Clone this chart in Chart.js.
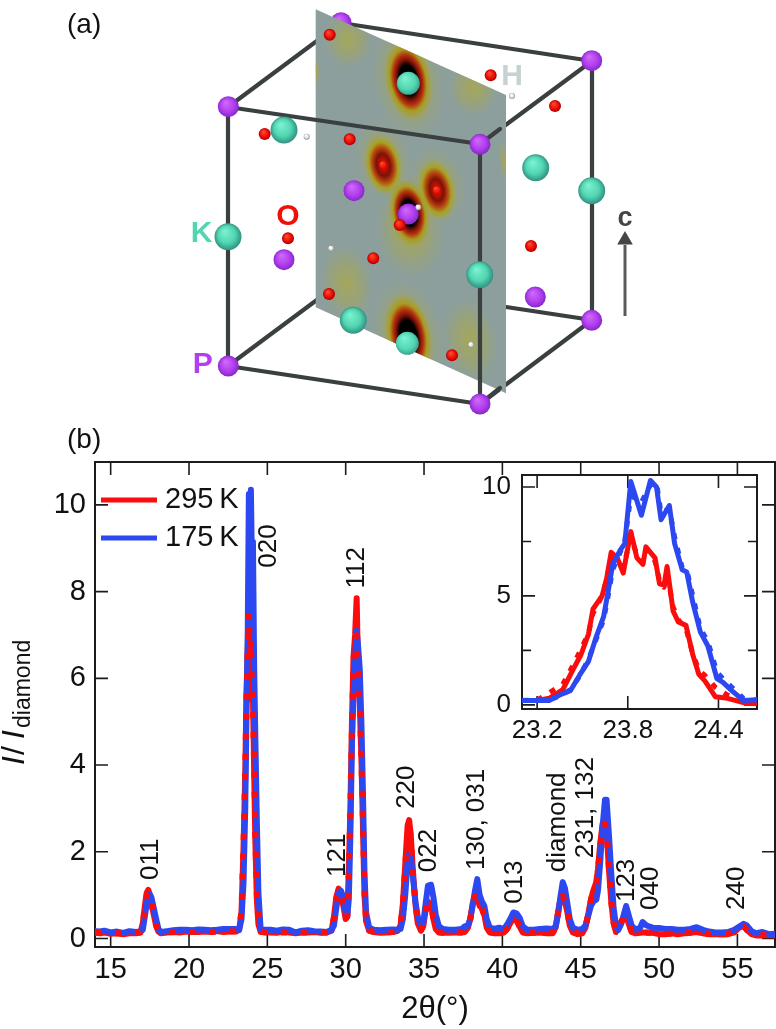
<!DOCTYPE html>
<html>
<head>
<meta charset="utf-8">
<title>KDP diffraction</title>
<script src="https://cdn.jsdelivr.net/npm/chart.js@4"></script>
<style>
  html, body { margin: 0; padding: 0; background: #fff; }
  #page { position: relative; width: 776px; height: 1029px; overflow: hidden; }
  canvas { position: absolute; }
</style>
</head>
<body>
<div id="page">
  <canvas id="chartMain" width="776" height="1029" style="left:0;top:0"></canvas>
  <canvas id="chartInset" width="290" height="280" style="left:470px;top:470px"></canvas>
  <canvas id="chartCell" width="776" height="425" style="left:0;top:0"></canvas>
</div>
<script>
// === main pattern ===
const twoTheta = [
  14, 14.3, 14.6, 15, 15.4, 15.8, 16.2, 16.6, 16.9,
  17.05, 17.2, 17.3, 17.4, 17.5, 17.6, 17.75, 17.9, 18.05, 18.2,
  18.6, 19, 19.4, 19.8, 20.2, 20.6, 21, 21.4, 21.8, 22.2, 22.6, 23,
  23.2, 23.35, 23.48, 23.59, 23.67, 23.75, 23.82, 23.89, 23.95, 24.02, 24.08, 24.16, 24.23, 24.33, 24.43, 24.57,
  24.8, 25.2, 25.6, 26, 26.4, 26.8, 27.2, 27.6, 28, 28.4, 28.8, 29.1,
  29.25, 29.4, 29.55, 29.7, 29.85, 30, 30.1, 30.2, 30.3, 30.4, 30.5, 30.6, 30.7, 30.8, 30.9, 31, 31.1, 31.2, 31.3, 31.5,
  31.8, 32.2, 32.6, 33, 33.3,
  33.5, 33.65, 33.8, 33.95, 34.05, 34.15, 34.3, 34.45, 34.6, 34.8, 34.95, 35.1, 35.25, 35.45, 35.6, 35.75, 35.95,
  36.2, 36.6, 37, 37.4, 37.6, 37.8,
  37.95, 38.1, 38.25, 38.4, 38.55, 38.7, 38.85, 39, 39.2, 39.5, 39.8, 40.1,
  40.3, 40.5, 40.7, 40.9, 41.1, 41.3, 41.6, 42, 42.4, 42.8, 43.2,
  43.4, 43.55, 43.7, 43.85, 44, 44.15, 44.3, 44.5, 44.8, 45.1,
  45.3, 45.5, 45.65, 45.8, 46, 46.1, 46.25, 46.4, 46.55, 46.65, 46.8, 46.95, 47.1, 47.25,
  47.4, 47.6, 47.75, 47.9, 48.05, 48.25, 48.5, 48.8, 48.95, 49.2, 49.6,
  50, 50.4, 50.8, 51.2, 51.6, 52, 52.4, 52.8, 53.2, 53.6, 54, 54.4, 54.8,
  55.1, 55.4, 55.6, 55.9, 56.2, 56.6, 57, 57.4
];
const data295 = [
  .14, .12, .14, .11, .12, .10, .12, .12, .14,
  .35, .8, 1.05, 1.12, 1, .8, .55, .3, .16, .12,
  .14, .15, .14, .16, .15, .15, .16, .15, .17, .15, .16, .16,
  .2, .6, 2.1, 3.8, 5.7, 6.7, 7.9, 6.5, 7.1, 5.5, 5.6, 3.8, 2.3, .9, .33, .15,
  .15, .14, .13, .16, .14, .12, .14, .14, .15, .13, .14, .18,
  .5, .95, 1.15, 1.05, .75, .45, .5, 1.6, 3, 5, 6.5, 7, 7.85, 6, 5.4, 4.2, 2.6, 1, .4, .18,
  .15, .13, .14, .15, .17,
  .3, .8, 1.7, 2.6, 2.73, 2.4, 1.5, .8, .35, .18, .28, .65, .85, .78, .45, .22, .14,
  .13, .13, .14, .14, .15, .25,
  .45, .8, 1, .95, .75, .7, .55, .25, .14, .12, .12, .14,
  .22, .35, .48, .42, .28, .14, .12, .13, .14, .12, .12,
  .25, .6, .9, 1, .85, .6, .3, .14, .1, .12,
  .25, .6, .9, 1.1, 1.3, 1.6, 2.2, 2.65, 2.7, 2.5, 1.6, .85, .35, .15,
  .25, .4, .5, .55, .35, .15, .12, .13, .14, .14, .13,
  .1, .1, .12, .1, .12, .13, .15, .12, .1, .1, .09, .1, .14,
  .25, .3, .2, .1, .07, .07, .08, .07
];
const fit295 = [
  .13, .13, .13, .12, .12, .11, .12, .13, .14,
  .33, .78, 1, 1.08, 1, .82, .56, .3, .17, .13,
  .14, .15, .15, .15, .15, .15, .15, .15, .16, .16, .16, .17,
  .2, .65, 2.2, 3.9, 5.6, 6.6, 7.5, 6.5, 6.9, 5.6, 5.5, 3.9, 2.4, 1, .4, .17,
  .14, .14, .14, .14, .14, .13, .14, .14, .14, .14, .14, .18,
  .48, .92, 1.1, 1.03, .76, .47, .52, 1.55, 3, 4.9, 6.4, 6.9, 7, 6, 5.3, 4.2, 2.7, 1.05, .42, .18,
  .15, .14, .14, .15, .17,
  .3, .78, 1.65, 2.5, 2.6, 2.35, 1.5, .82, .37, .2, .3, .63, .82, .76, .45, .23, .15,
  .13, .13, .14, .14, .16, .25,
  .44, .78, .98, .95, .76, .68, .53, .26, .15, .13, .13, .14,
  .22, .34, .46, .42, .28, .15, .12, .13, .13, .13, .13,
  .25, .58, .88, .98, .85, .6, .32, .15, .12, .12,
  .25, .58, .88, 1.08, 1.28, 1.58, 2.15, 2.6, 2.65, 2.45, 1.62, .85, .37, .16,
  .25, .38, .48, .52, .34, .16, .13, .13, .13, .13, .13,
  .11, .11, .11, .11, .12, .13, .14, .12, .11, .1, .1, .11, .15,
  .24, .28, .2, .11, .08, .08, .08, .08
];
const data175 = [
  .17, .16, .18, .14, .16, .13, .17, .15, .16,
  .2, .55, .8, .95, 1.02, .95, .7, .45, .22, .15,
  .17, .19, .2, .2, .19, .21, .2, .19, .2, .22, .22, .22,
  .2, .45, 1.3, 3, 5.2, 7.1, 10.25, 8.7, 10.35, 8.5, 9.15, 6.2, 4.7, 2.7, 1.05, .22,
  .2, .2, .18, .21, .2, .14, .18, .19, .17, .16, .15, .2,
  .3, .7, 1.05, 1.1, .95, .6, .5, .9, 2.4, 4.5, 5.6, 6.4, 7.1, 6.7, 6.2, 5, 3.4, 1.5, .6, .25,
  .2, .19, .2, .21, .2,
  .22, .45, 1, 1.75, 1.95, 1.9, 1.4, .85, .5, .32, .35, .8, 1.22, 1.24, .95, .55, .28,
  .22, .2, .2, .22, .28, .3,
  .45, .75, 1.1, 1.37, 1, .85, .75, .45, .25, .22, .25, .22,
  .32, .45, .6, .58, .48, .28, .2, .2, .22, .23, .22,
  .28, .55, .95, 1.3, 1.15, .8, .45, .25, .2, .22,
  .3, .55, .75, .85, .9, 1.1, 1.8, 2.6, 3.2, 3.2, 2.4, 1.5, .7, .3,
  .2, .35, .55, .75, .55, .3, .2, .25, .38, .3, .25,
  .24, .22, .22, .2, .2, .22, .26, .2, .16, .14, .14, .15, .2,
  .27, .34, .3, .17, .12, .15, .1, .11
];
const xTicks = [15, 20, 25, 30, 35, 40, 45, 50, 55];
const yTicks = [0, 2, 4, 6, 8, 10];

// reflection names and the spot where each one starts
const peakNames = ["011", "020", "112", "121", "220", "022", "130, 031", "013", "diamond", "231, 132", "123", "040", "240"];
const peakX = [17.55, 25.09, 30.71, 29.5, 33.9, 35.31, 38.37, 40.8, 43.54, 45.33, 47.95, 49.48, 54.97];
const peakY = [1.35, 8.55, 8.07, 1.42, 2.99, 1.53, 1.58, 0.8, 1.53, 1.85, 0.84, 0.66, 0.66];

// === inset, 020 peak ===
const insetX295 = [23.1, 23.2, 23.28, 23.37, 23.44, 23.49, 23.54, 23.57, 23.63, 23.66, 23.69, 23.73, 23.77, 23.82, 23.86, 23.9, 23.92, 23.98, 24.01, 24.04, 24.06, 24.1, 24.135, 24.185, 24.23, 24.27, 24.31, 24.38, 24.46, 24.565, 24.655];
const inset295 = [.2, .2, .3, .7, 1.65, 2.3, 3.25, 4.4, 5, 5.8, 7, 6.75, 6.05, 7.95, 6.75, 6.45, 7.25, 6.75, 5.55, 5.5, 6.35, 4.3, 3.8, 3.65, 2.3, 1.4, 1.1, .37, .3, .1, .05];
const insetFit295 = [.2, .22, .55, .95, 1.85, 2.55, 3.3, 4.2, 5, 5.75, 6.8, 6.6, 6.3, 7.7, 6.9, 6.5, 7.1, 6.6, 5.7, 5.4, 6, 4.5, 3.9, 3.5, 2.35, 1.6, 1.35, .8, .45, .15, .1];
const insetX175 = [23.1, 23.2, 23.28, 23.35, 23.42, 23.48, 23.54, 23.59, 23.64, 23.67, 23.7, 23.75, 23.78, 23.82, 23.89, 23.95, 23.99, 24.02, 24.075, 24.11, 24.16, 24.19, 24.23, 24.28, 24.33, 24.39, 24.43, 24.49, 24.565, 24.655];
const inset175 = [.2, .2, .2, .45, .65, 1.35, 2, 3.1, 4.05, 5.2, 6.45, 7.1, 7.4, 10.25, 8.7, 10.3, 10, 8.5, 9.15, 7.4, 6.2, 6.1, 4.7, 3.35, 2.7, 1.2, 1.03, .64, .2, .24];
const insetFit175 = [.2, .2, .25, .4, .7, 1.3, 2.1, 3, 3.9, 5, 6.2, 7, 7.5, 9.6, 9.3, 10.1, 10.2, 8.8, 9, 7.7, 6.3, 6.2, 5, 3.5, 2.9, 1.5, 1.2, .8, .3, .22];
const insetXTicks = [23.2, 23.8, 24.4];
const insetYTicks = [0, 2.5, 5, 7.5, 10];

// === panel (a), scene coordinates ===
const atomsP = [[228.3, 106.7], [591.7, 60.7], [480, 144.3], [228.3, 366], [591.7, 320.3], [480, 404], [354, 190.7], [284, 259.7], [535.3, 297], [408.3, 214]];
const atomsPBack = [[341, 22.7]];
const atomsK = [[228, 236.7], [284, 130], [535.7, 167.7], [591.7, 190.7], [479.7, 274.7], [353.3, 320.3], [408.3, 83.3], [407.3, 343.3]];
const radiiK = [13.5, 13.5, 13.5, 13.5, 13.5, 13.5, 11.5, 11.5];
const atomsO = [[329.7, 34.7], [490.7, 75.3], [555, 106], [264.7, 134], [349.7, 139.3], [288, 238.3], [373.3, 258.3], [399.7, 225], [531, 246], [329, 294], [452, 355.3], [383, 165], [436.7, 190]];
const radiiO = [6, 6, 6, 6, 6, 6, 6, 6, 6, 6, 6, 3.5, 3.5];
const atomsH = [[512, 96], [306.7, 136.7], [418.3, 207.3], [331, 248.3], [471, 344.7]];
const planeCorners = [[315.7, 9.3], [506, 95], [506, 393.3], [315.7, 307.3]];
const backEdges = [
  [[228, 107], [341, 23]], [[341, 23], [592, 61]], [[592, 61], [592, 320]], [[592, 320], [480, 404]],
  [[592, 61], [480, 144]], [[228, 366], [341, 282]], [[341, 282], [592, 320]]
];
const frontEdges = [
  [[228, 107], [480, 144]], [[480, 144], [480, 404]], [[480, 404], [228, 366]], [[228, 366], [228, 107]],
  [[480, 144], [500, 129]], [[480, 404], [500, 388]]
];
const arrowShaft = [[625, 316], [625, 245]];
const arrowHead = [[625, 240]];
// x, y, rx, ry of the density blobs on the plane
const blobsStrong = [[408.3, 80, 24, 42], [408.3, 336, 24, 44], [409.3, 213, 21, 36]];
const blobsMedium = [[383.3, 165, 19, 31], [436.7, 190, 19, 31]];
const blobsFaint = [[348, 40, 24, 28], [473, 88, 25, 28], [346.7, 283.3, 26, 38], [470, 340, 27, 42], [410, 232, 34, 46], [383, 160, 28, 40], [437, 186, 28, 40], [408, 80, 36, 60], [408, 338, 36, 60], [505, 163, 6, 22], [316, 70, 4, 16]];

Chart.defaults.font.family = '"Liberation Sans", Arial, sans-serif';
Chart.defaults.color = "#111";
Chart.defaults.animation = false;

const RED = "#fb0d0d";
const BLUE = "#2c48f0";
const INK = "#1c1c1c";
const toXY = (xs, ys) => xs.map((x, i) => ({ x: x, y: ys[i] }));
const toPts = (list) => list.map((p) => ({ x: p[0], y: p[1] }));

function curve(xs, ys, color, width, dash) {
  return {
    data: toXY(xs, ys),
    showLine: true,
    borderColor: color,
    borderWidth: width,
    borderDash: dash || [],
    borderJoinStyle: "round",
    borderCapStyle: dash ? "butt" : "round",
    pointRadius: 0,
    tension: 0
  };
}

// frame and inward ticks on all four sides
const framePlugin = {
  id: "frame",
  beforeDatasetsDraw(chart, args, opts) {
    const { ctx, chartArea: a, scales } = chart;
    ctx.save();
    ctx.strokeStyle = INK;
    ctx.lineWidth = 1.6;
    scales.x.ticks.forEach((t) => {
      const px = scales.x.getPixelForValue(t.value);
      ctx.beginPath();
      ctx.moveTo(px, a.top); ctx.lineTo(px, a.top + opts.len);
      ctx.moveTo(px, a.bottom); ctx.lineTo(px, a.bottom - opts.len);
      ctx.stroke();
    });
    scales.y.ticks.forEach((t) => {
      const py = scales.y.getPixelForValue(t.value);
      const len = t.label === "" ? opts.len * 0.7 : opts.len;
      ctx.beginPath();
      ctx.moveTo(a.left, py); ctx.lineTo(a.left + len, py);
      ctx.moveTo(a.right, py); ctx.lineTo(a.right - len, py);
      ctx.stroke();
    });
    ctx.lineWidth = 2;
    ctx.strokeRect(a.left, a.top, a.right - a.left, a.bottom - a.top);
    ctx.restore();
  }
};

// peak names, legend and the y title
const notesPlugin = {
  id: "notes",
  afterDatasetsDraw(chart) {
    const { ctx, scales } = chart;
    ctx.save();
    ctx.fillStyle = "#111";
    ctx.font = '26px "Liberation Sans"';
    ctx.textAlign = "left";
    ctx.textBaseline = "middle";
    peakNames.forEach((name, i) => {
      ctx.save();
      ctx.translate(scales.x.getPixelForValue(peakX[i]), scales.y.getPixelForValue(peakY[i]));
      ctx.rotate(-Math.PI / 2);
      ctx.fillText(name, 0, 0);
      ctx.restore();
    });

    // legend
    [["295\u2009K", RED, 500], ["175\u2009K", BLUE, 538]].forEach((row) => {
      ctx.strokeStyle = row[1];
      ctx.lineWidth = 5;
      ctx.beginPath();
      ctx.moveTo(101, row[2]); ctx.lineTo(157, row[2]);
      ctx.stroke();
      ctx.fillStyle = "#111";
      ctx.font = '29px "Liberation Sans"';
      ctx.fillText(row[0], 165, row[2]);
    });

    ctx.font = '28px "Liberation Sans"';
    ctx.fillText("(b)", 67, 440);

    // I/I diamond, turned
    ctx.translate(24, 765);
    ctx.rotate(-Math.PI / 2);
    ctx.textBaseline = "alphabetic";
    ctx.font = 'italic 32px "Liberation Sans"';
    ctx.fillText("I", 0, 0);
    ctx.font = '32px "Liberation Sans"';
    ctx.fillText("/", 10, 0);
    ctx.font = 'italic 32px "Liberation Sans"';
    ctx.fillText("I", 26, 0);
    ctx.font = '23px "Liberation Sans"';
    ctx.fillText("diamond", 37, 6);
    ctx.restore();
  }
};

// grey plane and its density blobs, painted just before the dataset called plane
const planePlugin = {
  id: "plane",
  beforeDatasetDraw(chart, args) {
    if (chart.data.datasets[args.index].label !== "plane") return;
    const { ctx, scales } = chart;
    const X = (v) => scales.x.getPixelForValue(v);
    const Y = (v) => scales.y.getPixelForValue(v);
    ctx.save();
    ctx.beginPath();
    planeCorners.forEach((p, i) => (i ? ctx.lineTo(X(p[0]), Y(p[1])) : ctx.moveTo(X(p[0]), Y(p[1]))));
    ctx.closePath();
    ctx.fillStyle = "#8d9f9c";
    ctx.fill();
    ctx.clip();
    const paint = (list, stops) => list.forEach((b) => {
      ctx.save();
      ctx.translate(X(b[0]), Y(b[1]));
      ctx.rotate(-0.18);
      ctx.scale(b[2], b[3]);
      const g = ctx.createRadialGradient(0, 0, 0, 0, 0, 1);
      stops.forEach((s) => g.addColorStop(s[0], s[1]));
      ctx.fillStyle = g;
      ctx.beginPath();
      ctx.arc(0, 0, 1, 0, Math.PI * 2);
      ctx.fill();
      ctx.restore();
    });
    paint(blobsFaint, [[0, "rgba(176,170,62,.7)"], [.55, "rgba(170,168,70,.4)"], [1, "rgba(160,165,90,0)"]]);
    paint(blobsMedium, [[0, "#e01400"], [.16, "#c81000"], [.36, "#7a1208"], [.55, "#b5400f"], [.74, "#a8a020"], [1, "rgba(170,165,60,0)"]]);
    paint(blobsStrong, [[0, "#000"], [.36, "#000"], [.48, "#7a1208"], [.6, "#b5300f"], [.74, "#a89a1e"], [1, "rgba(170,165,60,0)"]]);
    ctx.restore();
  }
};

function ball(light, mid, dark, r) {
  return (c) => {
    if (!c.parsed) return mid;
    const px = c.chart.scales.x.getPixelForValue(c.parsed.x);
    const py = c.chart.scales.y.getPixelForValue(c.parsed.y);
    // options get resolved once during layout too, before the scales have a size
    if (!isFinite(px) || !isFinite(py)) return mid;
    const g = c.chart.ctx.createRadialGradient(px - r * 0.25, py - r * 0.4, 0.5, px, py, r);
    g.addColorStop(0, light);
    g.addColorStop(0.6, mid);
    g.addColorStop(1, dark);
    return g;
  };
}

function atoms(list, radius, fill) {
  return {
    data: toPts(list),
    showLine: false,
    pointRadius: radius,
    pointBorderWidth: 0,
    pointBackgroundColor: fill
  };
}

function edges(list, width) {
  return list.map((e) => ({
    data: toPts(e),
    showLine: true,
    borderColor: "#3a3f40",
    borderWidth: width,
    borderCapStyle: "round",
    pointRadius: 0
  }));
}

const purple = ball("#cf6af9", "#b23fef", "#8227c4", 11);
const teal = ball("#7cf2d0", "#52d6b2", "#2f8c7e", 14);
const redBall = ball("#ff4a30", "#f01008", "#a80000", 6);
const white = ball("#ffffff", "#d8dcdc", "#8a8f8f", 3);

// Panel (a) - unit cell. Later datasets are painted first.
new Chart(document.getElementById("chartCell"), {
  type: "scatter",
  data: {
    datasets: [
      atoms(atomsH, 3, white),
      atoms(atomsO, radiiO, redBall),
      atoms(atomsP, 10.5, purple),
      atoms(atomsK, radiiK, teal),
      ...edges(frontEdges, 4.2),
      { label: "plane", data: toPts(planeCorners), showLine: false, pointRadius: 0 },
      atoms(atomsPBack, 10.5, purple),
      ...edges(backEdges, 4.2),
      { data: toPts(arrowHead), showLine: false, pointStyle: "triangle", pointRadius: 9, pointBackgroundColor: "#454545", pointBorderWidth: 0 },
      { data: toPts(arrowShaft), showLine: true, borderColor: "#5a5a5a", borderWidth: 3, pointRadius: 0 }
    ]
  },
  options: {
    responsive: false,
    events: [],
    layout: { padding: 0, autoPadding: false },
    plugins: { legend: { display: false }, tooltip: { enabled: false } },
    scales: {
      x: { type: "linear", display: false, min: 0, max: 776 },
      y: { type: "linear", display: false, min: 0, max: 425, reverse: true }
    }
  },
  plugins: [planePlugin, {
    id: "cellText",
    afterDatasetsDraw(chart) {
      const ctx = chart.ctx;
      ctx.save();
      ctx.textBaseline = "middle";
      ctx.textAlign = "center";
      [["O", "#f01008", 288, 217], ["K", "#52d6b2", 201.7, 234], ["P", "#b23fef", 202.7, 365], ["H", "#c6d2cf", 512, 77]].forEach((t) => {
        ctx.fillStyle = t[1];
        ctx.font = 'bold 30px "Liberation Sans"';
        ctx.fillText(t[0], t[2], t[3]);
      });
      ctx.fillStyle = "#454545";
      ctx.font = 'bold 27px "Liberation Sans"';
      ctx.fillText("c", 625, 219);
      ctx.textAlign = "left";
      ctx.fillStyle = "#111";
      ctx.font = '28px "Liberation Sans"';
      ctx.fillText("(a)", 67, 25);
      ctx.restore();
    }
  }]
});

// Panel (b) - whole pattern
new Chart(document.getElementById("chartMain"), {
  type: "scatter",
  data: {
    datasets: [
      curve(twoTheta, fit295, RED, 6, [6, 14]),
      curve(twoTheta, data175, BLUE, 6),
      curve(twoTheta, data295, RED, 6)
    ]
  },
  options: {
    responsive: false,
    events: [],
    layout: { padding: { top: 462, right: 1 }, autoPadding: false },
    plugins: { legend: { display: false }, tooltip: { enabled: false }, frame: { len: 13 } },
    scales: {
      x: {
        type: "linear",
        min: 14,
        max: 57.4,
        grid: { display: false, drawTicks: false, tickLength: 0 },
        border: { display: false },
        afterFit(s) { s.height = 82; },
        afterBuildTicks(s) { s.ticks = xTicks.map((v) => ({ value: v })); },
        ticks: { font: { size: 29 }, color: "#111", padding: 6, maxRotation: 0, autoSkip: false, callback: (v) => String(v) },
        title: { display: true, text: "2θ(°)", font: { size: 31 }, color: "#111", padding: { top: 0, bottom: 1 } }
      },
      y: {
        type: "linear",
        min: -0.196,
        max: 10.99,
        grid: { display: false, drawTicks: false, tickLength: 0 },
        border: { display: false },
        afterFit(s) { s.width = 95; },
        afterBuildTicks(s) { s.ticks = yTicks.map((v) => ({ value: v })); },
        ticks: { font: { size: 29 }, color: "#111", padding: 9, autoSkip: false, callback: (v) => String(v) }
      }
    }
  },
  plugins: [framePlugin, notesPlugin]
});

// Inset - 020 peak
new Chart(document.getElementById("chartInset"), {
  type: "scatter",
  data: {
    datasets: [
      curve(insetX175, insetFit175, BLUE, 5, [6, 9]),
      curve(insetX175, inset175, BLUE, 5),
      curve(insetX295, insetFit295, RED, 5, [6, 9]),
      curve(insetX295, inset295, RED, 5)
    ]
  },
  options: {
    responsive: false,
    events: [],
    layout: { padding: { top: 5, right: 3 }, autoPadding: false },
    plugins: { legend: { display: false }, tooltip: { enabled: false }, frame: { len: 13 } },
    scales: {
      x: {
        type: "linear",
        min: 23.1,
        max: 24.655,
        grid: { display: false, drawTicks: false, tickLength: 0 },
        border: { display: false },
        afterFit(s) { s.height = 41; },
        afterBuildTicks(s) { s.ticks = insetXTicks.map((v) => ({ value: v })); },
        ticks: { font: { size: 26 }, color: "#111", padding: 6, maxRotation: 0, autoSkip: false, callback: (v) => v.toFixed(1) }
      },
      y: {
        type: "linear",
        min: -0.19,
        max: 10.55,
        grid: { display: false, drawTicks: false, tickLength: 0 },
        border: { display: false },
        // the label half-height would otherwise push the frame down from 475
        afterFit(s) { s.width = 52; s.paddingTop = 0; s.paddingBottom = 0; },
        afterBuildTicks(s) { s.ticks = insetYTicks.map((v) => ({ value: v })); },
        ticks: { font: { size: 26 }, color: "#111", padding: 11, autoSkip: false, callback: (v) => (v % 5 === 0 ? String(v) : "") }
      }
    }
  },
  plugins: [framePlugin]
});
</script>
</body>
</html>
